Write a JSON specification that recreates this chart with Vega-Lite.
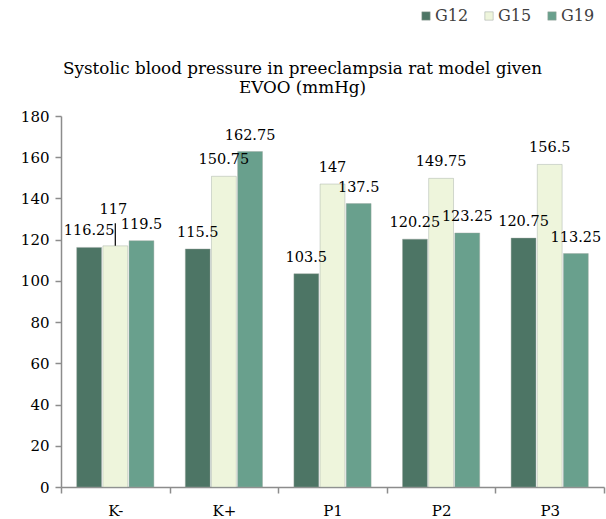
{
  "$schema": "https://vega.github.io/schema/vega-lite/v6.json",
  "width": 543,
  "height": 371,
  "autosize": {"type": "none"},
  "padding": {"left": 61, "top": 116, "right": 2, "bottom": 32},
  "background": "white",
  "title": {
    "text": ["Systolic blood pressure in preeclampsia rat model given", "EVOO (mmHg)"],
    "font": "DejaVu Serif, serif",
    "fontSize": 16.8,
    "fontWeight": "normal",
    "color": "#000000",
    "anchor": "middle",
    "dx": -30,
    "dy": 89,
    "offset": 0,
    "lineHeight": 19
  },
  "config": {
    "view": {"stroke": null},
    "font": "DejaVu Serif, serif",
    "text": {"font": "DejaVu Serif, serif"}
  },
  "data": {
    "values": [
      {"group": "K-", "series": "G12", "value": 116.25},
      {"group": "K-", "series": "G15", "value": 117},
      {"group": "K-", "series": "G19", "value": 119.5},
      {"group": "K+", "series": "G12", "value": 115.5},
      {"group": "K+", "series": "G15", "value": 150.75},
      {"group": "K+", "series": "G19", "value": 162.75},
      {"group": "P1", "series": "G12", "value": 103.5},
      {"group": "P1", "series": "G15", "value": 147},
      {"group": "P1", "series": "G19", "value": 137.5},
      {"group": "P2", "series": "G12", "value": 120.25},
      {"group": "P2", "series": "G15", "value": 149.75},
      {"group": "P2", "series": "G19", "value": 123.25},
      {"group": "P3", "series": "G12", "value": 120.75},
      {"group": "P3", "series": "G15", "value": 156.5},
      {"group": "P3", "series": "G19", "value": 113.25}
    ]
  },
  "encoding": {
    "x": {
      "field": "group",
      "type": "nominal",
      "sort": ["K-", "K+", "P1", "P2", "P3"],
      "scale": {"paddingInner": 0, "paddingOuter": 0},
      "axis": {
        "title": null,
        "labelAngle": 0,
        "labelFont": "DejaVu Serif, serif",
        "labelFontSize": 15,
        "labelColor": "#000000",
        "labelPadding": 10,
        "domainColor": "#8c8c8c",
        "domainWidth": 1.5,
        "tickColor": "#8c8c8c",
        "tickWidth": 1.5,
        "tickSize": 6,
        "tickBand": "extent"
      }
    },
    "xOffset": {
      "field": "series",
      "type": "nominal",
      "sort": ["G12", "G15", "G19"],
      "scale": {"paddingInner": 0.05, "paddingOuter": 0.6}
    },
    "y": {
      "field": "value",
      "type": "quantitative",
      "scale": {"domain": [0, 180], "nice": false},
      "axis": {
        "title": null,
        "values": [0, 20, 40, 60, 80, 100, 120, 140, 160, 180],
        "grid": false,
        "labelFont": "DejaVu Serif, serif",
        "labelFontSize": 15,
        "labelColor": "#000000",
        "labelPadding": 6,
        "domainColor": "#8c8c8c",
        "domainWidth": 1.5,
        "tickColor": "#8c8c8c",
        "tickWidth": 1.5,
        "tickSize": 6
      }
    }
  },
  "layer": [
    {
      "mark": {"type": "bar", "stroke": "#9aa59f", "strokeWidth": 0.6, "strokeOpacity": 0.7},
      "encoding": {
        "color": {
          "field": "series",
          "type": "nominal",
          "scale": {"domain": ["G12", "G15", "G19"], "range": ["#4d7565", "#eef5dc", "#69a08d"]},
          "legend": {
            "title": null,
            "orient": "none",
            "direction": "horizontal",
            "legendX": 357,
            "legendY": -108,
            "symbolType": "square",
            "symbolSize": 70,
            "symbolStrokeColor": "#9aa59f",
            "symbolStrokeWidth": 0.5,
            "labelFont": "DejaVu Serif, serif",
            "labelFontSize": 16,
            "labelColor": "#404040",
            "labelOffset": 1,
            "columnPadding": 12
          }
        }
      }
    },
    {
      "transform": [{"filter": "!(datum.group === 'K-' && datum.series === 'G15')"}],
      "mark": {"type": "text", "font": "DejaVu Serif, serif", "baseline": "bottom", "dy": -9, "fontSize": 14.5, "color": "#000000"},
      "encoding": {"text": {"field": "value", "type": "quantitative"}}
    },
    {
      "transform": [{"filter": "datum.group === 'K-' && datum.series === 'G15'"}],
      "mark": {"type": "text", "font": "DejaVu Serif, serif", "baseline": "bottom", "dy": -29, "dx": -2, "fontSize": 14.5, "color": "#000000"},
      "encoding": {"text": {"field": "value", "type": "quantitative"}}
    },
    {
      "transform": [{"filter": "datum.group === 'K-' && datum.series === 'G15'"}],
      "mark": {"type": "rule", "color": "#000000", "strokeWidth": 1.2, "xOffset": -1},
      "encoding": {"y2": {"datum": 128}}
    }
  ]
}
